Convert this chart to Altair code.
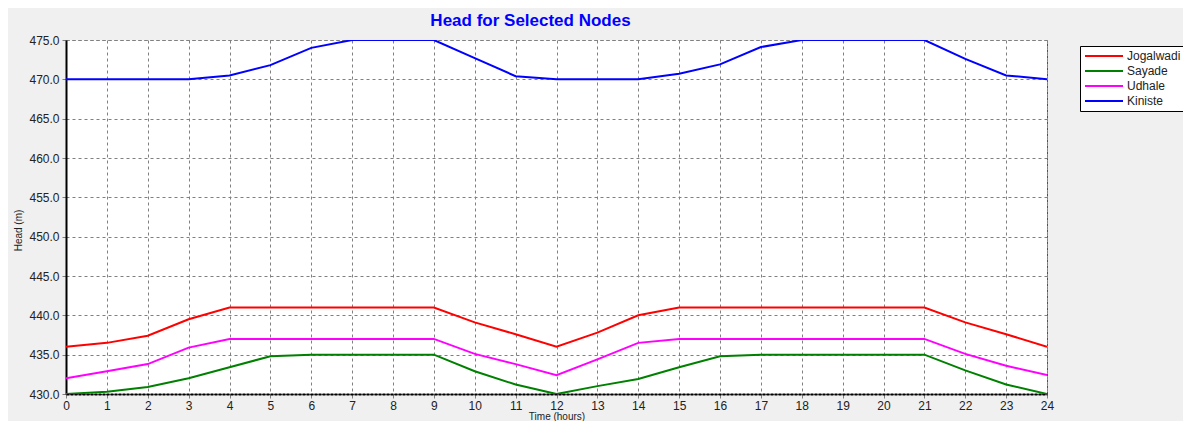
import altair as alt
import pandas as pd

hours = list(range(25))
series = ["Jogalwadi", "Sayade", "Udhale", "Kiniste"]
colors = ["#ff0000", "#008000", "#ff00ff", "#0000ff"]

jogalwadi = [436.0, 436.5, 437.4, 439.5, 441.0, 441.0, 441.0, 441.0, 441.0, 441.0, 439.1, 437.6, 436.0,
             437.8, 440.0, 441.0, 441.0, 441.0, 441.0, 441.0, 441.0, 441.0, 439.1, 437.6, 436.0]
sayade = [430.0, 430.3, 430.9, 432.0, 433.4, 434.8, 435.0, 435.0, 435.0, 435.0, 432.9, 431.2, 430.0,
          431.0, 431.9, 433.4, 434.8, 435.0, 435.0, 435.0, 435.0, 435.0, 433.0, 431.2, 430.0]
udhale = [432.0, 432.9, 433.8, 435.9, 437.0, 437.0, 437.0, 437.0, 437.0, 437.0, 435.1, 433.8, 432.4,
          434.4, 436.5, 437.0, 437.0, 437.0, 437.0, 437.0, 437.0, 437.0, 435.1, 433.6, 432.4]
kiniste = [470.0, 470.0, 470.0, 470.0, 470.5, 471.8, 474.0, 475.0, 475.0, 475.0, 472.7, 470.4, 470.0,
           470.0, 470.0, 470.7, 471.9, 474.1, 475.0, 475.0, 475.0, 475.0, 472.6, 470.5, 470.0]
y_ticks = [430, 435, 440, 445, 450, 455, 460, 465, 470, 475]

rows = []
for name, vals in zip(series, [jogalwadi, sayade, udhale, kiniste]):
    for h, v in zip(hours, vals):
        rows.append({"hour": h, "head": v, "node": name})
df = pd.DataFrame(rows)

FONT = "Liberation Sans"

chart = alt.Chart(df).mark_line(strokeWidth=2, clip=True).encode(
    x=alt.X("hour:Q",
            scale=alt.Scale(domain=[0, 24], nice=False),
            axis=alt.Axis(values=hours, format="d", title="Time (hours)",
                          titleY=22, titleBaseline="middle", titleFontSize=10,
                          titleFontWeight="normal", titleFont=FONT, titleColor="#222222",
                          labelFont=FONT, labelFontSize=12, labelColor="#222222",
                          labelPadding=2, tickSize=4, tickColor="#808080",
                          domainColor="#000000", domainWidth=2, domainDash=[3, 1],
                          gridColor="#808080", gridDash=[3, 3], gridWidth=1,
                          labelFlush=False)),
    y=alt.Y("head:Q",
            scale=alt.Scale(domain=[430, 475], nice=False, zero=False),
            axis=alt.Axis(values=y_ticks, format=".1f", title="Head (m)",
                          titleX=-48, titleY=190, titleAlign="center", titleBaseline="middle",
                          titleFontSize=10, titleFontWeight="normal", titleFont=FONT,
                          titleColor="#222222",
                          labelFont=FONT, labelFontSize=12, labelColor="#222222",
                          labelPadding=3, tickSize=4, tickColor="#808080",
                          domainColor="#000000", domainWidth=2,
                          gridColor="#808080", gridDash=[3, 3], gridWidth=1,
                          labelFlush=False)),
    color=alt.Color("node:N",
                    scale=alt.Scale(domain=series, range=colors),
                    legend=alt.Legend(title=None, orient="none", legendX=1014, legendY=6,
                                      fillColor="white", strokeColor="#000000",
                                      padding=4, symbolType="M-1,0H6.6", symbolSize=100,
                                      symbolStrokeWidth=2, labelFont=FONT, labelFontSize=12,
                                      labelColor="#222222", labelOffset=31, rowPadding=3)),
).properties(
    width=981,
    height=354,
    autosize=alt.AutoSizeParams(type="none"),
    padding={"left": 58, "top": 32, "right": 136, "bottom": 27},
    background="#f0f0f0",
    title=alt.TitleParams("Head for Selected Nodes", color="#0000ff", fontSize=17,
                          font=FONT, fontWeight="bold", offset=4, dx=-26, anchor="middle"),
).configure_view(
    fill="white", stroke="#505050", strokeDash=[3, 3], strokeWidth=1
)

chart.save("out.html", embed_options={"renderer": "svg", "actions": False})
